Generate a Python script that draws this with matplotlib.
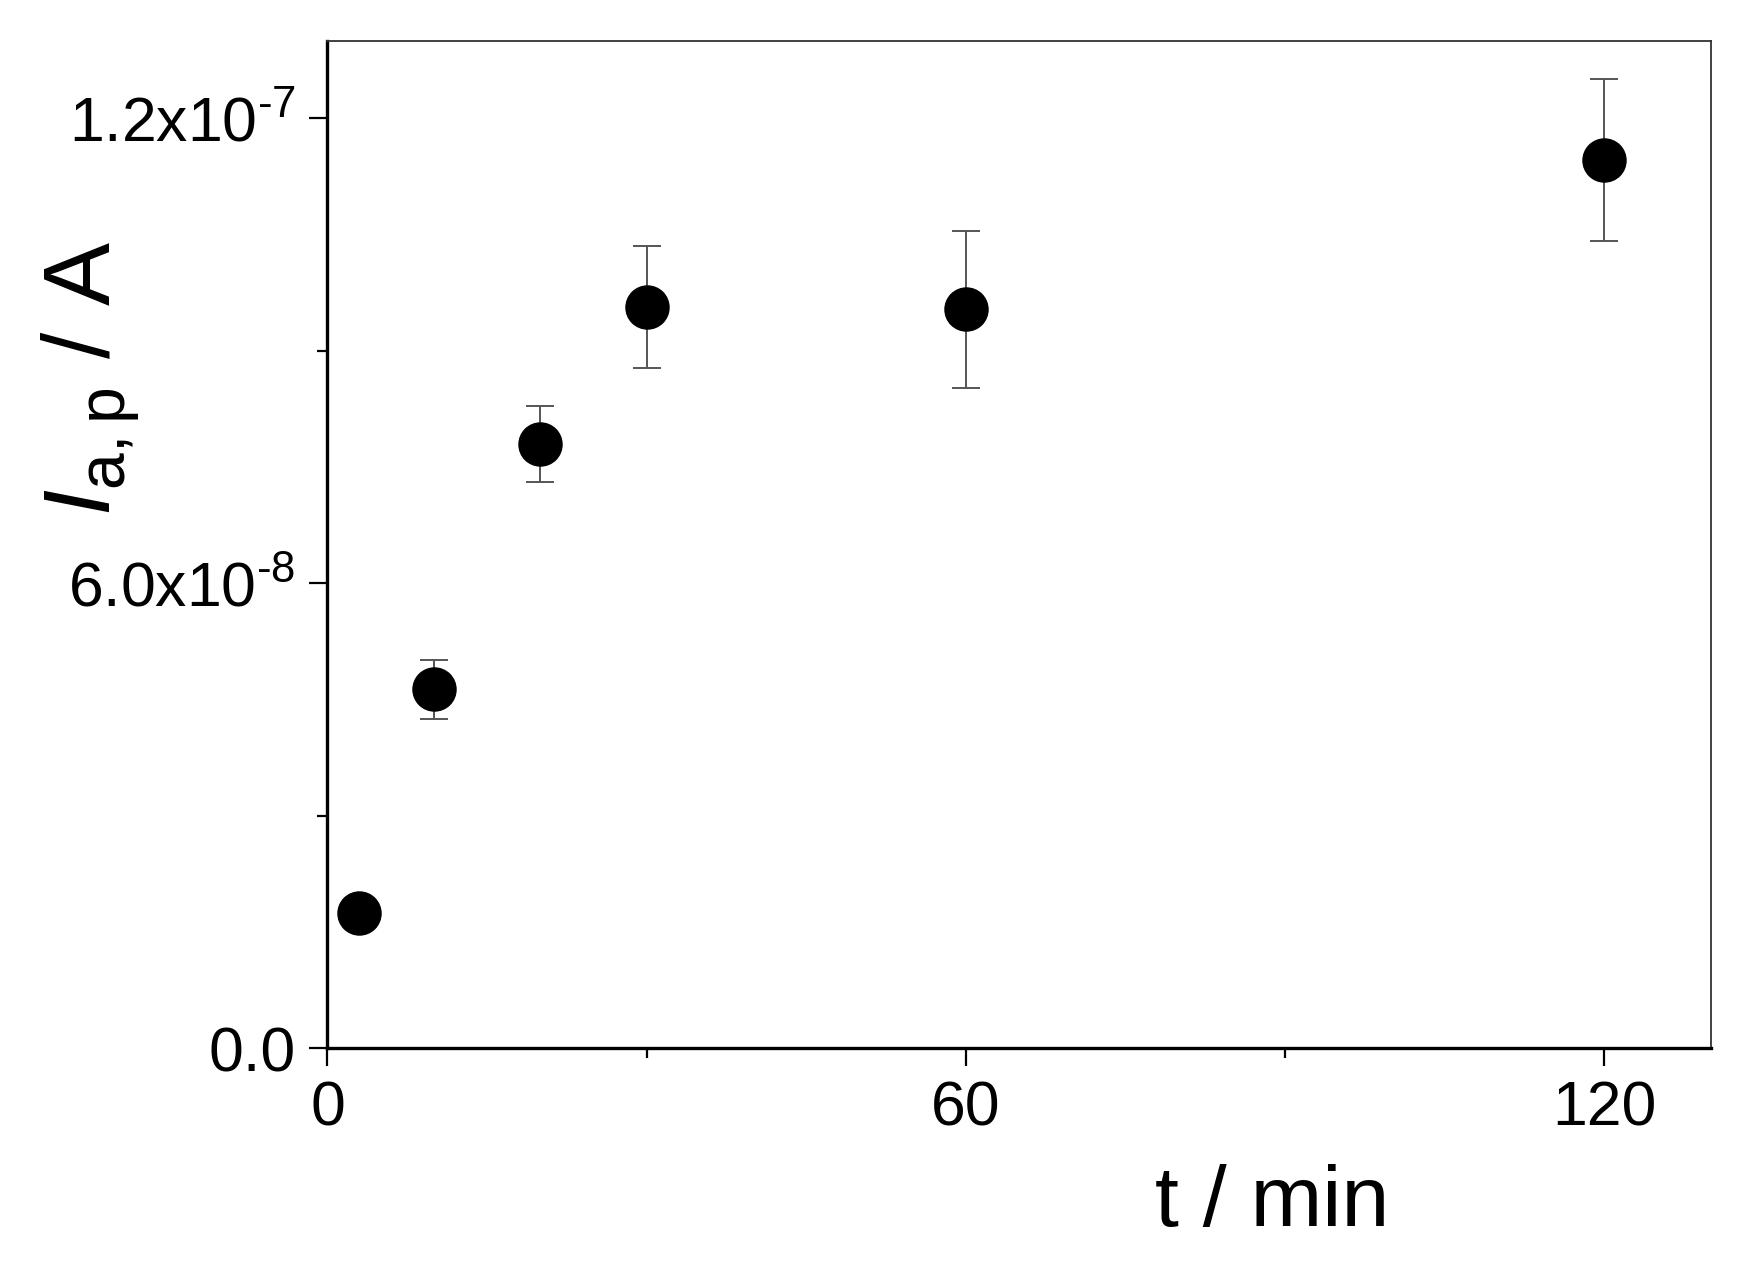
import numpy as np
import matplotlib
matplotlib.use('Agg')
import matplotlib.pyplot as plt
from matplotlib.ticker import FixedLocator

plt.rcParams['font.family'] = ['Liberation Sans', 'DejaVu Sans']
plt.rcParams['mathtext.fontset'] = 'custom'
plt.rcParams['mathtext.rm'] = 'Liberation Sans'
plt.rcParams['mathtext.it'] = 'Liberation Sans:italic'
plt.rcParams['mathtext.bf'] = 'Liberation Sans:bold'

# data
t_min = [3, 10, 20, 30, 60, 120]
i_ap = [1.74e-8, 4.63e-8, 7.80e-8, 9.56e-8, 9.53e-8, 1.146e-7]
i_err = [0.10e-8, 0.38e-8, 0.49e-8, 0.79e-8, 1.01e-8, 1.05e-8]

x_ticks = [0, 60, 120]
x_minor = [30, 90]
y_ticks = [0.0, 6.0e-8, 1.2e-7]
y_minor = [3.0e-8, 9.0e-8]
y_ticklabels = ['0.0', r'6.0x10$^{\text{-}8}$', r'1.2x10$^{\text{-}7}$']

fig = plt.figure(figsize=(17.42, 12.68), dpi=100)
ax = fig.add_axes([0.188, 0.1735, 0.794, 0.7945])

ax.errorbar(t_min, i_ap, yerr=i_err, fmt='o', color='black', markersize=31,
            ecolor='#555555', elinewidth=1.4, capsize=10, capthick=1.4, zorder=3)

ax.set_xlim(0, 130)
ax.set_ylim(0, 1.3e-7)

ax.set_xticks(x_ticks)
ax.set_xticklabels([str(v) for v in x_ticks])
ax.xaxis.set_minor_locator(FixedLocator(x_minor))
ax.set_yticks(y_ticks)
ax.set_yticklabels(y_ticklabels)
ax.yaxis.set_minor_locator(FixedLocator(y_minor))

ax.tick_params(which='major', direction='out', length=13, width=1.6, labelsize=45, pad=10)
ax.tick_params(which='minor', direction='out', length=7, width=1.6)
ax.tick_params(top=False, right=False)

for side in ['left', 'bottom']:
    ax.spines[side].set_linewidth(2.4)
for side in ['top', 'right']:
    ax.spines[side].set_linewidth(1.3)
    ax.spines[side].set_color('#333333')

ax.set_xlabel('t / min', fontsize=62)
ax.xaxis.set_label_coords(0.683, -0.115)
ax.set_ylabel(r'$\mathit{I}_{\mathrm{a,p}}$ / A', fontsize=68)
ax.yaxis.set_label_coords(-0.135, 0.665)

fig.savefig('out.png', dpi=100)
